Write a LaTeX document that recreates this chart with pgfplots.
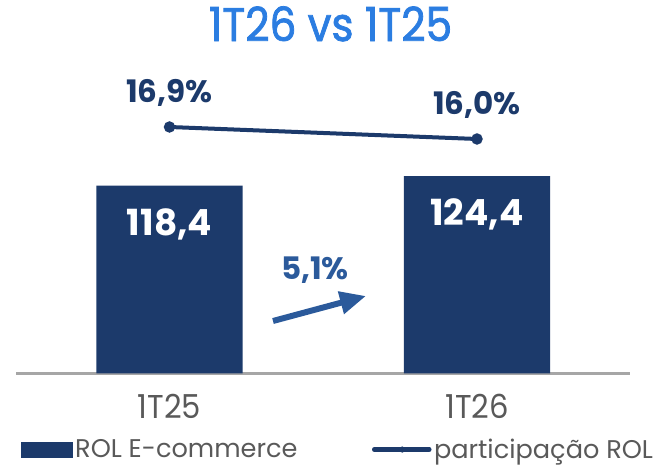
\documentclass[border=0pt]{standalone}
\usepackage{fontspec}
\setmainfont{Poppins}
\newfontfamily\titlefont{Poppins}[FakeStretch=0.9, FakeBold=1.6]
\newfontfamily\tickfont{Poppins}[FakeStretch=0.93]
\usepackage{pgfplots}
\pgfplotsset{compat=1.18}
\usetikzlibrary{arrows.meta}
\definecolor{navy}{HTML}{1C3A6B}
\definecolor{titleblue}{HTML}{2B7DE1}
\definecolor{arrowblue}{HTML}{2B5A9B}
\definecolor{tickgray}{HTML}{595959}
\definecolor{axgray}{HTML}{A6A6A6}
\begin{document}
\begin{tikzpicture}
\useasboundingbox (0,0) rectangle (661bp,466bp);
\begin{axis}[
  at={(16bp,92.5bp)}, anchor=south west,
  scale only axis, width=614bp, height=313.5bp,
  xmin=-0.4992, xmax=1.4976, ymin=0, ymax=197.5,
  axis y line=none, axis x line*=bottom,
  x axis line style={axgray, line width=2.2bp},
  xtick={0,1}, xticklabels={1T25,1T26}, major tick length=0pt,
  xticklabel style={font=\tickfont\fontsize{33bp}{36bp}\selectfont, text=tickgray, anchor=base, yshift=-44.5bp, inner sep=0pt},
  ybar, bar width=146.4bp,
  clip=false,
  title={1T26 vs 1T25},
  title style={font=\titlefont\fontsize{47bp}{52bp}\selectfont, text=titleblue, at={(0.5122,1.0415)}, anchor=base, inner sep=0pt},
  legend columns=2,
  legend style={draw=none, fill=none, inner sep=0pt, outer sep=0pt, at={(0.00814,-0.2425)}, anchor=west,
    font=\fontsize{25.6bp}{28bp}\selectfont, text=tickgray,
    nodes={inner xsep=2.5bp},
    /tikz/every even column/.append style={column sep=72bp}},
  legend cell align=left,
]
\addplot[fill=navy, draw=none,
  nodes near coords, point meta=explicit symbolic,
  every node near coord/.append style={anchor=base, yshift=-49.5bp, inner sep=0pt, text=white, font=\fontsize{36bp}{40bp}\selectfont\bfseries},
  legend image code/.code={\fill[navy] (0bp,-8bp) rectangle (51.7bp,8bp);}]
  table[x=x, y=y, meta=lab] {
x y lab
0 118.4 118,4
1 124.4 124,4
};
\addlegendentry{ROL E-commerce}
\addlegendimage{legend image code/.code={\draw[navy, line width=4.5bp, line cap=round] (0bp,0bp) -- (55bp,0bp); \fill[navy] (28bp,0bp) circle (2.8bp);}}
\addlegendentry{participação ROL}
\draw[arrowblue, line width=6bp, -{Triangle[length=26bp,width=22bp]}] (axis cs:0.3366,33.08) -- (axis cs:0.639,48.83);
\node[anchor=base, inner sep=0pt, text=arrowblue, font=\fontsize{31bp}{34bp}\selectfont\bfseries] at (axis cs:0.473,59.5) {5,1\%};
\end{axis}
\begin{axis}[
  at={(16bp,92.5bp)}, anchor=south west,
  scale only axis, width=614bp, height=313.5bp,
  xmin=-0.4992, xmax=1.4976, ymin=-1.5875, ymax=21.925,
  axis lines=none, clip=false,
]
\addplot[navy, line width=4bp, mark=*, mark size=3.6bp, mark options={fill=navy, draw=none},
  nodes near coords={\pgfplotspointmeta\%}, point meta=explicit symbolic,
  every node near coord/.append style={anchor=base, yshift=24bp, inner sep=0pt, text=navy, font=\fontsize{31bp}{34bp}\selectfont\bfseries}]
  table[x=x, y=y, meta=lab] {
x y lab
0 16.9 16,9
1 16.0 16,0
};
\end{axis}
\end{tikzpicture}
\end{document}
